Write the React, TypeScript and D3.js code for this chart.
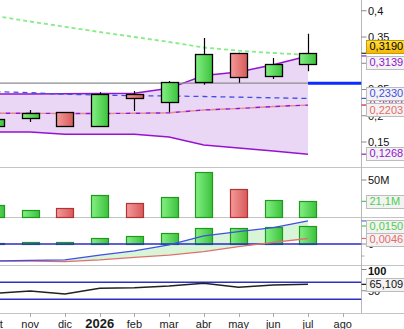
import React from "react";
import * as d3 from "d3";

const W = 404;
const H = 329;

// monthly data, oct 2025 .. jul 2026
const months = ["oct", "nov", "dic", "ene", "feb", "mar", "abr", "may", "jun", "jul"];
const axisLabels = ["oct", "nov", "dic", "2026", "feb", "mar", "abr", "may", "jun", "jul", "ago"];

const open = [0.18, 0.196, 0.207, 0.18, 0.241, 0.226, 0.264, 0.32, 0.276, 0.299];
const close = [0.194, 0.205, 0.18, 0.241, 0.234, 0.264, 0.318, 0.274, 0.299, 0.319];
const high = [0.196, 0.211, 0.207, 0.245, 0.247, 0.266, 0.348, 0.32, 0.31, 0.356];
const low = [0.178, 0.188, 0.179, 0.179, 0.209, 0.207, 0.259, 0.263, 0.27, 0.285];

const bbUpper = [0.2414, 0.2414, 0.2418, 0.2424, 0.2428, 0.2523, 0.2767, 0.2833, 0.2972, 0.3139];
const bbLower = [0.169, 0.169, 0.1648, 0.1648, 0.1648, 0.1595, 0.1443, 0.1386, 0.1329, 0.1268];
const bbMiddle = [0.2047, 0.2047, 0.2043, 0.2043, 0.2047, 0.2056, 0.211, 0.2138, 0.2176, 0.2203];
const maRed = [0.2047, 0.2047, 0.2043, 0.2043, 0.2047, 0.2056, 0.211, 0.2138, 0.2176, 0.2203];
const maBlue = [0.2458, 0.2439, 0.2409, 0.2395, 0.2382, 0.2376, 0.2367, 0.2354, 0.2342, 0.233];
const maGreen = [0.39, 0.3795, 0.3694, 0.3595, 0.35, 0.3405, 0.33, 0.324, 0.3195, 0.316];
const refLevel = 0.262;

const volume = [16.8, 9, 12.5, 29.7, 18.9, 27, 61, 38.4, 23, 21.1]; // millions

const macd = [-0.0142, -0.0137, -0.0133, -0.0092, -0.0058, -0.0008, 0.0067, 0.0103, 0.0136, 0.0192];
const signal = [-0.0142, -0.0142, -0.0147, -0.0133, -0.0111, -0.0092, -0.0064, -0.0022, 0.0014, 0.0046];
const hist = [0.0008, 0.0017, 0.0017, 0.005, 0.0067, 0.0092, 0.0133, 0.0133, 0.0138, 0.015];

const rsi = [44, 49.4, 42.4, 55.8, 57.2, 61.2, 67.5, 58.1, 63.5, 65.1];

const priceTicks = [0.15, 0.2, 0.25, 0.3, 0.35, 0.4];

const FONT = "'Liberation Sans', Arial, sans-serif";
const AX = 361.5;
const GREEN_TXT = "#4ccf4c";
const SALMON = "#e86a6a";
const PURPLE = "#9414d0";
const BLUE = "#3f4fe6";

const comma = (v: number) => String(v).replace(".", ",");

export default function App() {
  const x = d3.scaleLinear().domain([0, 10]).range([-4.5, 342.7]);
  const yP = d3.scaleLinear().domain([0.15, 0.35]).range([142, 37]);
  const yV = d3.scaleLinear().domain([0, 50]).range([217, 180]);
  const yM = d3.scaleLinear().domain([0, 0.02]).range([244, 220]);
  const yR = d3.scaleLinear().domain([0, 100]).range([312, 269.5]);

  const lineP = d3.line<number>().x((_, i) => x(i)).y((d) => yP(d));
  const bandArea = d3.area<number>()
    .x((_, i) => x(i))
    .y0((_, i) => yP(bbLower[i]))
    .y1((d) => yP(d));
  const lineM = d3.line<number>().x((_, i) => x(i)).y((d) => yM(d));
  const macdArea = d3.area<number>()
    .x((_, i) => x(i))
    .y0((_, i) => yM(signal[i]))
    .y1((d) => yM(d));
  const lineR = d3.line<number>().x((_, i) => x(i)).y((d) => yR(d));

  const bw = 17;
  const px = (v: number) => Math.round(v) + 0.5;

  // value boxes on the right axis (drawn in this order, later ones on top)
  const boxes = [
    { y: yP(0.2203) - 1, text: "0,2203", color: "#a0309a", tick: yP(0.2203) },
    { y: yP(0.3139) + 6.5, text: "0,3139", color: PURPLE, tick: yP(0.3139) },
    { y: yP(0.233) - 5, text: "0,2330", color: BLUE, tick: yP(0.233) },
    { y: yP(0.2203) + 4.5, text: "0,2203", color: SALMON, tick: yP(0.2203) },
    { y: yP(0.1268) - 1, text: "0,1268", color: PURPLE, tick: yP(0.1268) },
    { y: yV(21.1), text: "21,1M", color: GREEN_TXT, tick: yV(21.1) },
    { y: yM(0.015), text: "0,0150", color: GREEN_TXT, tick: yM(0.015) },
    { y: yM(0.0046) + 1, text: "0,0046", color: SALMON, tick: yM(0.0046) },
    { y: yR(65.109), text: "65,109", color: "#111", tick: yR(65.109) },
  ];

  return (
    <div style={{ position: "fixed", left: 0, top: 0 }}>
      <svg width={W} height={H} style={{ display: "block", background: "#fff" }} fontFamily={FONT}>
        <defs>
          <linearGradient id="gUp" x1="0" x2="1" y1="0" y2="0">
            <stop offset="0%" stopColor="#84f084" />
            <stop offset="100%" stopColor="#3cc23c" />
          </linearGradient>
          <linearGradient id="gDn" x1="0" x2="1" y1="0" y2="0">
            <stop offset="0%" stopColor="#f59a9a" />
            <stop offset="100%" stopColor="#d85a5a" />
          </linearGradient>
          <linearGradient id="gCur" x1="0" x2="0" y1="0" y2="1">
            <stop offset="0%" stopColor="#ffe04a" />
            <stop offset="100%" stopColor="#f2b600" />
          </linearGradient>
          <clipPath id="plot">
            <rect x={0} y={0} width={AX} height={H} />
          </clipPath>
        </defs>

        {/* panel separators */}
        {[167, 217, 265, 313].map((y) => (
          <line key={y} x1={0} x2={W} y1={y + 0.5} y2={y + 0.5} stroke="#c4c4c4" strokeWidth={1.2} />
        ))}
        <line x1={AX} x2={AX} y1={0} y2={313} stroke="#b8b8b8" />

        <g clipPath="url(#plot)">
          {/* bollinger band */}
          <path d={bandArea(bbUpper) || ""} fill="#ead6f5" />
          <path d={lineP(bbUpper) || ""} fill="none" stroke={PURPLE} strokeWidth={1.4} />
          <path d={lineP(bbLower) || ""} fill="none" stroke={PURPLE} strokeWidth={1.4} />
          <path d={lineP(bbMiddle) || ""} fill="none" stroke={PURPLE} strokeWidth={1.4} strokeDasharray="5 5" />
          <path d={lineP(maRed) || ""} fill="none" stroke="#e88a8a" strokeWidth={1.4} strokeDasharray="5 5" strokeDashoffset={5} />
          <path d={lineP(maBlue) || ""} fill="none" stroke={BLUE} strokeWidth={1.3} strokeDasharray="5 4" />
          <path d={lineP(maGreen) || ""} fill="none" stroke="#86ec86" strokeWidth={1.8} strokeDasharray="4 3" />

          {/* reference level */}
          <line x1={0} x2={x(9)} y1={yP(refLevel)} y2={yP(refLevel)} stroke="#8c8c8c" strokeWidth={1.3} />
          <line x1={x(9)} x2={AX} y1={yP(refLevel)} y2={yP(refLevel)} stroke="#0a2cff" strokeWidth={3} />

          {/* candles */}
          {months.map((m, i) => {
            const up = close[i] >= open[i];
            const cx = x(i);
            const top = Math.round(yP(Math.max(open[i], close[i])));
            const bot = Math.round(yP(Math.min(open[i], close[i])));
            return (
              <g key={m}>
                <line x1={px(cx)} x2={px(cx)} y1={yP(high[i])} y2={yP(low[i])} stroke="#000" strokeWidth={1.2} />
                <rect x={px(cx - bw / 2)} y={top + 0.5} width={bw} height={Math.max(1, bot - top)}
                  fill={up ? "url(#gUp)" : "url(#gDn)"} stroke="#000" strokeWidth={1.3} />
              </g>
            );
          })}

          {/* volume */}
          {months.map((m, i) => {
            const up = close[i] >= open[i];
            const top = Math.round(yV(volume[i]));
            return (
              <rect key={m} x={px(x(i) - bw / 2)} y={top + 0.5} width={bw} height={217 - top}
                fill={up ? "url(#gUp)" : "url(#gDn)"} stroke={up ? "#1f9a1f" : "#b03434"} strokeWidth={1.2} />
            );
          })}

          {/* macd */}
          <path d={macdArea(macd) || ""} fill="#d8f5d8" />
          {months.map((m, i) => {
            const top = Math.round(yM(hist[i]));
            return (
              <rect key={m} x={px(x(i) - bw / 2)} y={top + 0.5} width={bw} height={Math.max(1, 244 - top)}
                fill="url(#gUp)" stroke="#1f9a1f" strokeWidth={1.2} />
            );
          })}
          <line x1={0} x2={AX} y1={yM(0)} y2={yM(0)} stroke="#2a2ac8" strokeWidth={1.4} />
          <path d={lineM(signal) || ""} fill="none" stroke="#e07070" strokeWidth={1.3} />
          <path d={lineM(macd) || ""} fill="none" stroke={BLUE} strokeWidth={1.3} />

          {/* rsi */}
          <line x1={0} x2={AX} y1={yR(70)} y2={yR(70)} stroke="#2f2fc8" strokeWidth={1.3} />
          <line x1={0} x2={AX} y1={yR(30)} y2={yR(30)} stroke="#2f2fc8" strokeWidth={1.3} />
          <path d={lineR(rsi) || ""} fill="none" stroke="#222" strokeWidth={1.5} />
        </g>

        {/* right axis ticks and labels */}
        <g fontSize={11} fill="#111">
          {priceTicks.map((t) => (
            <g key={t}>
              <line x1={AX} x2={AX + 5} y1={yP(t)} y2={yP(t)} stroke="#888" />
              <text x={368} y={yP(t)} dy="0.35em">{comma(t)}</text>
            </g>
          ))}
          <line x1={AX} x2={AX + 5} y1={yV(50)} y2={yV(50)} stroke="#888" />
          <text x={368} y={yV(50)} dy="0.35em">50M</text>
          <line x1={AX} x2={AX + 5} y1={yM(0)} y2={yM(0)} stroke="#888" />
          <text x={368} y={yM(0)} dy="0.35em">0</text>
          <line x1={AX} x2={AX + 3} y1={yM(-0.01)} y2={yM(-0.01)} stroke="#aaa" />
          <line x1={AX} x2={AX + 5} y1={yR(100)} y2={yR(100)} stroke="#888" />
          <text x={368} y={yR(100) + 2} dy="0.35em" fontWeight="bold">100</text>
          <line x1={AX} x2={AX + 5} y1={yR(50)} y2={yR(50)} stroke="#888" />
          <text x={368} y={yR(50)} dy="0.35em">50</text>
        </g>

        {/* colored value boxes */}
        <g fontSize={11}>
          <line x1={AX} x2={AX + 5} y1={yM(0.0192)} y2={yM(0.0192)} stroke={BLUE} />
          {boxes.map((b, i) => (
            <g key={i}>
              <line x1={AX} x2={AX + 5} y1={b.tick} y2={b.tick} stroke={b.color} strokeWidth={1.2} />
              <rect x={366.5} y={Math.round(b.y - 6.5) + 0.5} width={42} height={13} fill="#f3f3f3" stroke="#bcbcbc" />
              <text x={369.5} y={b.y} dy="0.36em" fill={b.color}>{b.text}</text>
            </g>
          ))}
          <line x1={AX} x2={AX + 5} y1={yP(0.319)} y2={yP(0.319)} stroke="#143a14" strokeWidth={1.2} />
          <rect x={366.5} y={Math.round(yP(0.319) - 7 - 6.5) + 0.5} width={42} height={13} fill="url(#gCur)" stroke="#c89a00" />
          <text x={369.5} y={yP(0.319) - 7} dy="0.36em" fill="#000">0,3190</text>
        </g>

        {/* x axis */}
        <g>
          {axisLabels.map((l, i) => (
            <g key={l}>
              <line x1={px(x(i))} x2={px(x(i))} y1={313} y2={317} stroke="#aaa" />
              <text x={x(i)} y={327.5} textAnchor="middle"
                fontSize={l === "2026" ? 13 : 11} fontWeight={l === "2026" ? "bold" : "normal"} fill="#1a1a1a">
                {l}
              </text>
            </g>
          ))}
        </g>
      </svg>
    </div>
  );
}
